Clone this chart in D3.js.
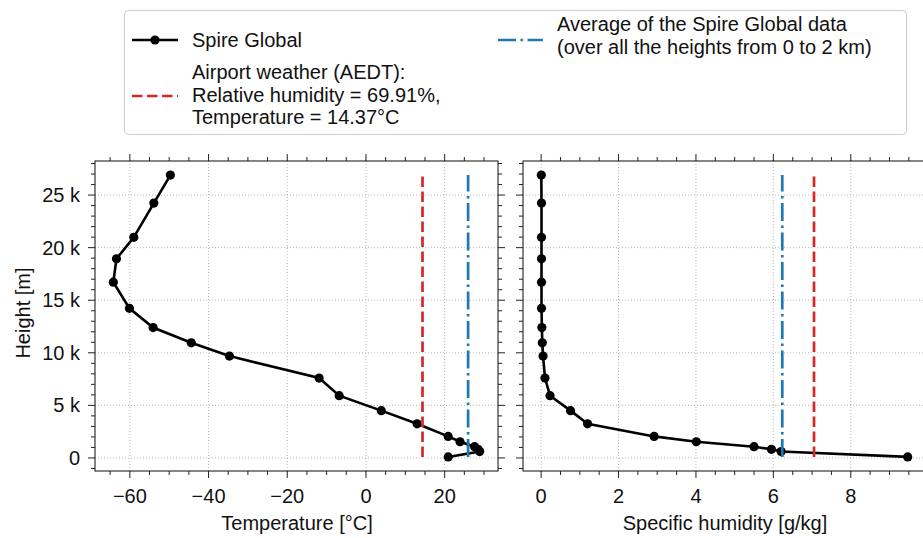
<html>
<head>
    <style>
        body { margin: 0; background: #fff; }
        text { font-family: "Liberation Sans", Arial, sans-serif; fill: #111; }
    </style>
    <script src="https://cdn.jsdelivr.net/npm/d3@7"></script>
</head>
<body>
    <svg id="container" width="923" height="538"></svg>
</body>
<script>
    // values (heights in m)
    let heights = [100, 610, 820, 1070, 1540, 2050, 3250, 4500, 5920, 7600, 9690,
        10950, 12400, 14230, 16720, 18940, 20980, 24240, 26900]
    let temperature = [20.9, 28.9, 28.5, 27.6, 23.9, 20.9, 13.0, 3.9, -6.8, -11.9, -34.7,
        -44.4, -54.1, -60.1, -64.2, -63.4, -59.0, -53.9, -49.7]
    let humidity = [9.47, 6.20, 5.95, 5.50, 4.01, 2.92, 1.20, 0.76, 0.23, 0.10, 0.05,
        0.03, 0.02, 0.01, 0.01, 0.01, 0.01, 0.01, 0.005]
    let airportTemp = 14.37
    let airportHum = 7.05
    let avgTemp = 25.96
    let avgHum = 6.23
    let tempTicks = [-60, -40, -20, 0, 20]
    let humTicks = [0, 2, 4, 6, 8]
    let heightTicks = [0, 5000, 10000, 15000, 20000, 25000]

    const RED = "#d62728", BLUE = "#1f77b4"
    let svg = d3.select("#container")

    let yTop = 161, yBottom = 471
    let hExt = d3.extent(heights), hPad = (hExt[1] - hExt[0]) * 0.05
    let y = d3.scaleLinear().domain([hExt[0] - hPad, hExt[1] + hPad]).range([yBottom, yTop])

    function padded(vals) {
        let e = d3.extent(vals), p = (e[1] - e[0]) * 0.05
        return [e[0] - p, e[1] + p]
    }

    let fmtNum = d => (d < 0 ? "\u2212" : "") + Math.abs(d)
    let fmtEng = d => d == 0 ? "0" : (d / 1000) + " k"

    function panel(x0, x1, vals, xTicks, minorX, refVal, avgVal, label, labelX, showY) {
        let x = d3.scaleLinear().domain(padded(vals)).range([x0, x1])
        let g = svg.append("g")

        // grid
        g.selectAll(".gx").data(xTicks).enter().append("line")
            .attr("x1", d => x(d)).attr("x2", d => x(d))
            .attr("y1", yTop).attr("y2", yBottom)
            .attr("stroke", "#b0b0b0").attr("stroke-width", 0.9).attr("stroke-dasharray", "1,2")
        g.selectAll(".gy").data(heightTicks).enter().append("line")
            .attr("x1", x0).attr("x2", x1)
            .attr("y1", d => y(d)).attr("y2", d => y(d))
            .attr("stroke", "#b0b0b0").attr("stroke-width", 0.9).attr("stroke-dasharray", "1,2")

        // ticks on all four sides, pointing out
        let minorY = d3.range(-1000, 29000, 1000).filter(v => v >= y.domain()[0] && v <= y.domain()[1])
        let mX = minorX.filter(v => v >= x.domain()[0] && v <= x.domain()[1])
        let tick = (xa, xb, ya, yb) => g.append("line").attr("x1", xa).attr("x2", xb)
            .attr("y1", ya).attr("y2", yb).attr("stroke", "#222").attr("stroke-width", 1)
        mX.forEach(v => {
            let len = xTicks.includes(v) ? 7 : 4
            tick(x(v), x(v), yBottom, yBottom + len)
            tick(x(v), x(v), yTop, yTop - len)
        })
        minorY.forEach(v => {
            let len = heightTicks.includes(v) ? 7 : 4
            tick(x0, x0 - len, y(v), y(v))
            tick(x1, x1 + len, y(v), y(v))
        })

        // frame
        g.append("rect").attr("x", x0).attr("y", yTop).attr("width", x1 - x0).attr("height", yBottom - yTop)
            .attr("fill", "none").attr("stroke", "#222").attr("stroke-width", 1.1)

        // tick labels
        g.selectAll(".tx").data(xTicks).enter().append("text")
            .attr("x", d => x(d)).attr("y", 503).attr("text-anchor", "middle")
            .style("font-size", "20px").text(fmtNum)
        if (showY) {
            g.selectAll(".ty").data(heightTicks).enter().append("text")
                .attr("x", 80).attr("y", d => y(d) + 7).attr("text-anchor", "end")
                .style("font-size", "20px").text(fmtEng)
        }
        g.append("text").attr("x", labelX).attr("y", 530)
            .attr("text-anchor", "middle").style("font-size", "20px").text(label)

        // profile
        let pts = heights.map((h, i) => [vals[i], h])
        g.append("path").datum(pts)
            .attr("d", d3.line().x(d => x(d[0])).y(d => y(d[1])))
            .attr("fill", "none").attr("stroke", "#000").attr("stroke-width", 2.6)
        g.selectAll("circle").data(pts).enter().append("circle")
            .attr("cx", d => x(d[0])).attr("cy", d => y(d[1])).attr("r", 4.6).attr("fill", "#000")

        // reference lines
        g.append("line").attr("x1", x(refVal)).attr("x2", x(refVal))
            .attr("y1", y(hExt[0])).attr("y2", y(hExt[1]))
            .attr("stroke", RED).attr("stroke-width", 2.7).attr("stroke-dasharray", "10.5,4.5")
        g.append("line").attr("x1", x(avgVal)).attr("x2", x(avgVal))
            .attr("y1", y(hExt[0])).attr("y2", y(hExt[1]))
            .attr("stroke", BLUE).attr("stroke-width", 2.7).attr("stroke-dasharray", "18,4.5,2.5,4.5")
    }

    panel(95, 498, temperature, tempTicks, d3.range(-70, 36, 5), airportTemp, avgTemp,
        "Temperature [\u00b0C]", 297, true)
    panel(523, 926, humidity, humTicks, d3.range(-0.5, 10.01, 0.5).map(v => +v.toFixed(1)), airportHum, avgHum,
        "Specific humidity [g/kg]", 725, false)

    svg.append("text").attr("transform", "translate(30,313) rotate(-90)")
        .attr("text-anchor", "middle").style("font-size", "20px").text("Height [m]")

    // legend
    let lg = svg.append("g")
    lg.append("rect").attr("x", 124.5).attr("y", 10.5).attr("width", 782).attr("height", 124).attr("rx", 4)
        .attr("fill", "#fff").attr("stroke", "#cccccc").attr("stroke-width", 1)
    lg.append("line").attr("x1", 132).attr("x2", 178).attr("y1", 40).attr("y2", 40)
        .attr("stroke", "#000").attr("stroke-width", 2.6)
    lg.append("circle").attr("cx", 155).attr("cy", 40).attr("r", 4.6).attr("fill", "#000")
    lg.append("text").attr("x", 192).attr("y", 47).style("font-size", "20px").text("Spire Global")

    lg.append("line").attr("x1", 132).attr("x2", 178).attr("y1", 96).attr("y2", 96)
        .attr("stroke", RED).attr("stroke-width", 2.7).attr("stroke-dasharray", "10.5,4.5")
    let airportLines = ["Airport weather (AEDT):", "Relative humidity = 69.91%,", "Temperature = 14.37\u00b0C"]
    lg.selectAll(".al").data(airportLines).enter().append("text")
        .attr("x", 192).attr("y", (d, i) => 79 + i * 22.5).style("font-size", "20px").text(d => d)

    lg.append("line").attr("x1", 498).attr("x2", 543).attr("y1", 40).attr("y2", 40)
        .attr("stroke", BLUE).attr("stroke-width", 2.7).attr("stroke-dasharray", "18,4.5,2.5,4.5")
    let avgLines = ["Average of the Spire Global data", "(over all the heights from 0 to 2 km)"]
    lg.selectAll(".bl").data(avgLines).enter().append("text")
        .attr("x", 557).attr("y", (d, i) => 31 + i * 22.5).style("font-size", "20px").text(d => d)
</script>
</html>
